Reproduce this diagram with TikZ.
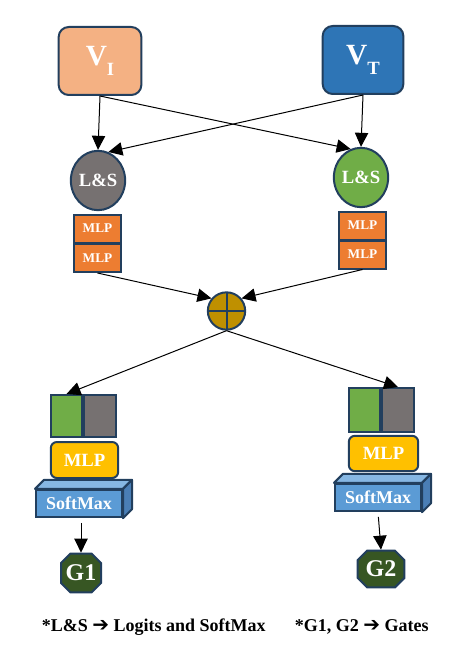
\documentclass[tikz,border=0pt]{standalone}
\usepackage{fontspec}
\setmainfont{Liberation Serif}
\newfontfamily\arrowfont{DejaVu Sans}
\usetikzlibrary{arrows.meta,shapes.geometric,shapes.misc,calc}

\definecolor{edgeBlue}{HTML}{223F5E}
\definecolor{vOrange}{HTML}{F4B183}
\definecolor{vBlue}{HTML}{2E75B6}
\definecolor{lsGray}{HTML}{767171}
\definecolor{lsGreen}{HTML}{70AD47}
\definecolor{mlpOrange}{HTML}{ED7D31}
\definecolor{plusGold}{HTML}{BF9000}
\definecolor{mlpYellow}{HTML}{FFC000}
\definecolor{smFront}{HTML}{5B9BD5}
\definecolor{smTop}{HTML}{86B7E3}
\definecolor{smSide}{HTML}{4A7EB5}
\definecolor{gateGreen}{HTML}{375623}

\tikzset{every picture/.style={line width=0.75pt}}
\tikzset{
  box/.style={draw=edgeBlue,line width=1.5pt,text=white,inner sep=0pt},
  arr/.style={-{Triangle[length=10.5pt,width=10pt]},line width=0.75pt},
  face/.style={draw=edgeBlue,line width=1.5pt,line join=round},
  gate/.style={box,chamfered rectangle,chamfered rectangle xsep=3.5pt,chamfered rectangle ysep=3.5pt,fill=gateGreen,font=\bfseries\fontsize{18}{20}\selectfont},
}

\begin{document}
\begin{tikzpicture}[x=0.75pt,y=0.75pt,yscale=-1,xscale=1]
\useasboundingbox (0,0) rectangle (470,659);

%Inputs
\node[box,rounded corners=7.5pt,fill=vOrange,minimum width=62pt,minimum height=51pt] (vi) at (100,61) {\bfseries\fontsize{22}{24}\selectfont V\raisebox{-7pt}{\fontsize{14}{14}\selectfont I}};
\node[box,rounded corners=7.5pt,fill=vBlue,minimum width=60.5pt,minimum height=51pt] (vt) at (363,60) {\bfseries\fontsize{22}{24}\selectfont V\raisebox{-7pt}{\fontsize{14}{14}\selectfont T}};

%Logits and SoftMax
\node[box,ellipse,fill=lsGray,minimum width=39.5pt,minimum height=44.5pt,font=\bfseries\fontsize{14}{16}\selectfont] (lsl) at (98,180.5) {L\&S};
\node[box,ellipse,fill=lsGreen,minimum width=39.5pt,minimum height=44.5pt,font=\bfseries\fontsize{14}{16}\selectfont] (lsr) at (361,177.5) {L\&S};

%MLP stacks
\node[box,fill=mlpOrange,minimum width=35.5pt,minimum height=21pt,font=\bfseries\fontsize{10}{12}\selectfont] (mlpL1) at (97.5,228.5) {MLP};
\node[box,fill=mlpOrange,minimum width=35.5pt,minimum height=21pt,font=\bfseries\fontsize{10}{12}\selectfont] (mlpL2) at (97.5,258) {MLP};
\node[box,fill=mlpOrange,minimum width=35.5pt,minimum height=21pt,font=\bfseries\fontsize{10}{12}\selectfont] (mlpR1) at (362.5,225.5) {MLP};
\node[box,fill=mlpOrange,minimum width=35.5pt,minimum height=21pt,font=\bfseries\fontsize{10}{12}\selectfont] (mlpR2) at (362.5,254.5) {MLP};

%Fusion
\node[box,circle,fill=plusGold,minimum size=28pt,path picture={\draw[edgeBlue,line width=1.5pt] (path picture bounding box.north) -- (path picture bounding box.south) (path picture bounding box.west) -- (path picture bounding box.east);}] (plus) at (226.5,311) {};

%Gate 1 branch
\node[box,fill=lsGreen,minimum width=23.5pt,minimum height=31.5pt] (grnL) at (66.5,416) {};
\node[box,fill=lsGray,minimum width=24pt,minimum height=31.5pt] (gryL) at (100,416) {};
\node[box,rounded corners=4.5pt,fill=mlpYellow,minimum width=50.5pt,minimum height=27pt,font=\bfseries\fontsize{14}{16}\selectfont] (mlpL) at (84.5,460) {MLP};
\node[box,fill=smFront,minimum width=64.5pt,minimum height=20.5pt,font=\bfseries\fontsize{13.5}{16}\selectfont] (smL) at (79,503.5) {SoftMax};
\filldraw[face,fill=smTop] (smL.north west) -- ++(9,-9) -- ($(smL.north east)+(9,-9)$) -- (smL.north east) -- cycle;
\filldraw[face,fill=smSide] (smL.north east) -- ++(9,-9) -- ($(smL.south east)+(9,-9)$) -- (smL.south east) -- cycle;
\node[gate,minimum width=30pt,minimum height=29pt] (g1) at (81,573) {G1};

%Gate 2 branch
\node[box,fill=lsGreen,minimum width=23.5pt,minimum height=33pt] (grnR) at (364.5,410) {};
\node[box,fill=lsGray,minimum width=24pt,minimum height=33pt] (gryR) at (398,410) {};
\node[box,rounded corners=4.5pt,fill=mlpYellow,minimum width=52pt,minimum height=26.5pt,font=\bfseries\fontsize{14}{16}\selectfont] (mlpR) at (383.5,453.5) {MLP};
\node[box,fill=smFront,minimum width=64.5pt,minimum height=20.5pt,font=\bfseries\fontsize{13.5}{16}\selectfont] (smR) at (378,497.5) {SoftMax};
\filldraw[face,fill=smTop] (smR.north west) -- ++(9,-9) -- ($(smR.north east)+(9,-9)$) -- (smR.north east) -- cycle;
\filldraw[face,fill=smSide] (smR.north east) -- ++(9,-9) -- ($(smR.south east)+(9,-9)$) -- (smR.south east) -- cycle;
\node[gate,minimum width=35pt,minimum height=27.5pt] (g2) at (381,569) {G2};

%Connectors
\draw[arr] (vi.south) -- (lsl.north);
\draw[arr] (vi.south) -- (lsr.110);
\draw[arr] (vt.south) -- (lsr.north);
\draw[arr] (vt.south) -- (lsl.70);
\draw[arr] (mlpL2.south) -- (plus.140);
\draw[arr] (mlpR2.south) -- (plus.40);
\draw[arr] (plus.south) -- (grnL.north);
\draw[arr] (plus.south) -- (gryR.north);
\draw[arr,shorten <=3.5pt] (smL.south -| g1.north) -- (g1.north);
\draw[arr,shorten <=3.5pt] (smR.south) -- (g2.north);

%Legend
\node[anchor=west,font=\bfseries\fontsize{13.5}{16}\selectfont] (noteLS) at (37,627) {*L\&S {\arrowfont\fontsize{15}{16}\selectfont ➔} Logits and SoftMax};
\node[anchor=west,font=\bfseries\fontsize{13.5}{16}\selectfont] (noteG) at (290,627) {*G1, G2 {\arrowfont\fontsize{15}{16}\selectfont ➔} Gates};

\end{tikzpicture}
\end{document}
